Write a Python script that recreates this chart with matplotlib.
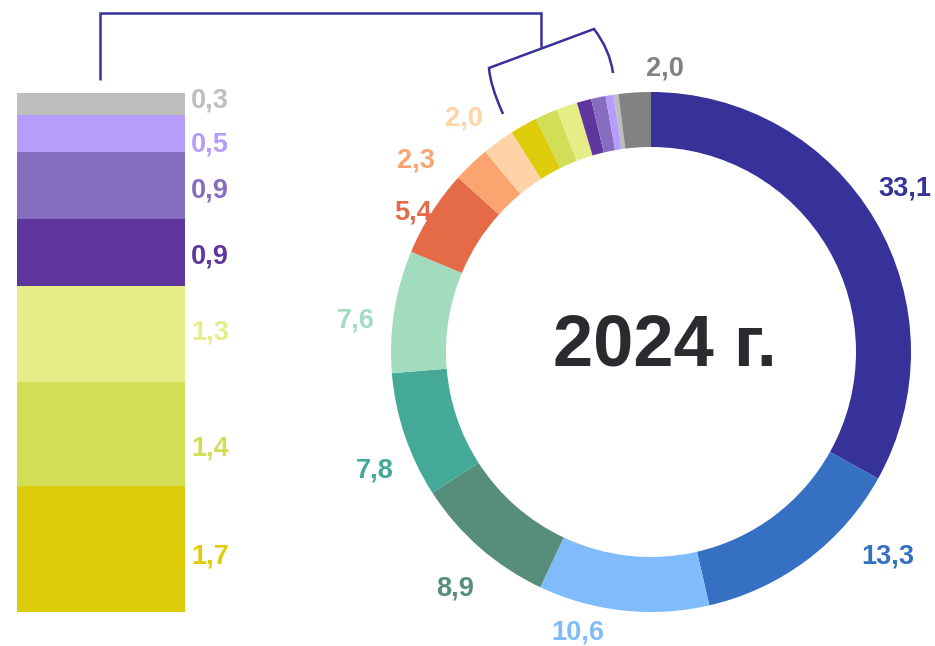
import matplotlib
matplotlib.use("Agg")
import matplotlib.pyplot as plt
from matplotlib.path import Path
from matplotlib.patches import PathPatch

plt.rcParams['font.family'] = ['Liberation Sans', 'DejaVu Sans']

# ---- data ----
ring_values = [33.1, 13.3, 10.6, 8.9, 7.8, 7.6, 5.4, 2.3, 2.0, 1.7, 1.4, 1.3, 0.9, 0.9, 0.5, 0.3, 2.0]
ring_labels = ["33,1", "13,3", "10,6", "8,9", "7,8", "7,6", "5,4", "2,3", "2,0", "", "", "", "", "", "", "", "2,0"]
ring_colors = ["#36329A", "#3570C3", "#80BBFB", "#578D7B", "#44A997", "#A2DCBF", "#E46A48",
               "#FCA46F", "#FED3A8", "#DDCC0A", "#D2DE55", "#E6EC86", "#5F369D", "#876DC0",
               "#B69DFC", "#BEBEBE", "#828282"]

bar_values = [1.7, 1.4, 1.3, 0.9, 0.9, 0.5, 0.3]          # bottom to top
bar_labels = ["1,7", "1,4", "1,3", "0,9", "0,9", "0,5", "0,3"]
bar_colors = ["#DDCC0A", "#D2DE55", "#E6EC86", "#5F369D", "#876DC0", "#B69DFC", "#BEBEBE"]

center_title = "2024 г."

# ---- layout ----
W, H = 935, 646
fig = plt.figure(figsize=(W / 100, H / 100), dpi=100)
ax = fig.add_axes([0, 0, 1, 1])

def Y(y):
    return H - y

cx, cy, R, ring_w = 651, 352, 260, 55
ax.pie(ring_values, colors=ring_colors, startangle=90, counterclock=False,
       radius=R, center=(cx, Y(cy)), frame=True,
       wedgeprops=dict(width=ring_w, linewidth=0))
ax.set_xlim(0, W)
ax.set_ylim(0, H)
ax.axis('off')

FS = 19.5
# ring label positions (pixel coords, centers)
ring_label_pos = [(905, 188), (888, 557), (578, 632), (455, 588), (375, 470), (356, 320),
                  (413, 212), (416, 160), (464, 118), None, None, None, None, None, None, None,
                  (665, 68)]
for lab, col, pos in zip(ring_labels, ring_colors, ring_label_pos):
    if lab and pos is not None:
        ax.text(pos[0], Y(pos[1]), lab, color=col, fontsize=FS, fontweight='bold',
                ha='center', va='center')

ax.text(cx + 14, Y(347), center_title, color="#2B2B2F", fontsize=52, fontweight='bold',
        ha='center', va='center')

# connector lines
lc = "#36329A"
lw = 1.8
ax.plot([100, 100, 541, 541], [Y(80), Y(13), Y(13), Y(47)], color=lc, lw=lw,
        solid_joinstyle='miter', solid_capstyle='butt')
verts = [(503, 114), (490, 85), (489, 68), (594, 29), (610, 50), (613, 73)]
verts = [(x, Y(y)) for x, y in verts]
codes = [Path.MOVETO, Path.CURVE3, Path.CURVE3, Path.LINETO, Path.CURVE3, Path.CURVE3]
ax.add_patch(PathPatch(Path(verts, codes), facecolor='none', edgecolor=lc, lw=lw,
                       joinstyle='miter', capstyle='butt'))

# ---- stacked bar ----
bx0, bx1, by0, by1 = 17, 185, 93, 612
bax = fig.add_axes([bx0 / W, (H - by1) / H, (bx1 - bx0) / W, (by1 - by0) / H])
bax.set_xlim(0, 1)
bax.set_ylim(0, sum(bar_values))
bax.axis('off')
bottom = 0
for v, col in zip(bar_values, bar_colors):
    bax.bar(0.5, v, width=1.0, bottom=bottom, color=col, linewidth=0)
    bottom += v

# bar label vertical positions (pixel y of text centers)
bar_label_y = [556, 449, 333, 257, 190, 145, 101]
for lab, col, py in zip(bar_labels, bar_colors, bar_label_y):
    ax.text(191, Y(py), lab, color=col, fontsize=FS, fontweight='bold',
            ha='left', va='center')

fig.savefig("out.png", dpi=100)
